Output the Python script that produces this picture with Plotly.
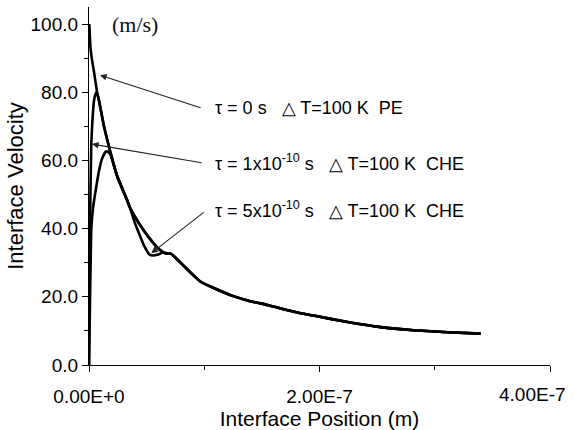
import plotly.graph_objects as go

NM = 1e-9

# tau = 0 s (PE)
pe_x_nm = [0.26, 1.3, 2.6, 4.35, 7.0, 8.7, 13.0, 18.9, 24.3, 33.0, 35.7, 43.5, 52.2, 61.7,
           66.1, 71.3, 76.5, 87.0, 96.5, 108.7, 125.2, 139.1, 154.8, 183.5, 194.8, 224.3,
           253.0, 281.7, 311.3, 340.0]
pe_v = [100.0, 93.0, 89.5, 86.0, 80.1, 77.5, 70.0, 62.0, 55.5, 48.4, 46.0, 41.5, 37.3, 33.7,
        32.8, 32.6, 31.0, 27.5, 24.5, 22.5, 20.2, 18.8, 17.6, 15.2, 14.5, 12.6,
        11.1, 10.2, 9.6, 9.2]

# tau = 1e-10 s (CHE)
c1_x_nm = [0.0, 0.43, 1.04, 2.0, 3.04, 4.35, 5.65, 6.7, 7.83, 8.7, 13.0, 18.9, 24.3, 33.0,
           35.7, 43.5, 52.2, 61.7, 66.1, 71.3, 76.5, 87.0, 96.5, 108.7, 125.2, 139.1, 154.8,
           183.5, 194.8, 224.3, 253.0, 281.7, 311.3, 340.0]
c1_v = [0.0, 25.0, 45.0, 65.0, 72.0, 77.5, 79.5, 80.0, 78.8, 77.5, 70.0, 62.0, 55.5, 48.4,
        46.0, 41.5, 37.3, 33.7, 32.8, 32.6, 31.0, 27.5, 24.5, 22.5, 20.2, 18.8, 17.6,
        15.2, 14.5, 12.6, 11.1, 10.2, 9.6, 9.2]

# tau = 5e-10 s (CHE)
c5_x_nm = [0.0, 0.7, 1.3, 2.0, 3.48, 5.22, 8.7, 11.3, 14.5, 16.5, 18.9, 24.3, 33.0, 35.7,
           40.0, 43.5, 47.8, 52.2, 55.7, 59.1, 64.3, 67.8, 71.3, 76.5, 87.0, 96.5, 108.7,
           125.2, 139.1, 154.8, 183.5, 194.8, 224.3, 253.0, 281.7, 311.3, 340.0]
c5_v = [0.0, 15.0, 28.0, 40.0, 46.0, 50.0, 57.0, 60.5, 62.6, 62.5, 61.5, 55.5, 48.4, 46.0,
        41.5, 38.5, 35.0, 32.5, 32.1, 32.3, 33.0, 32.8, 32.6, 31.0, 27.5, 24.5, 22.5,
        20.2, 18.8, 17.6, 15.2, 14.5, 12.6, 11.1, 10.2, 9.6, 9.2]

x_tick_vals = [0, 2e-7, 4e-7]
x_tick_text = ["0.00E+0", "2.00E-7", "4.00E-7"]
y_tick_vals = [0, 20, 40, 60, 80, 100]
y_tick_text = ["0.0", "20.0", "40.0", "60.0", "80.0", "100.0"]

labels = [
    "τ = 0 s   △ T=100 K  PE",
    "τ = 1x10<sup>-10</sup> s   △ T=100 K  CHE",
    "τ = 5x10<sup>-10</sup> s   △ T=100 K  CHE",
]
label_pos = [(1.08e-7, 75.4), (1.08e-7, 59.5), (1.08e-7, 45.5)]
arrow_tips = [(9.6e-9, 85.0), (2.6e-9, 64.8), (5.4e-8, 32.8)]
arrow_offsets = [(102, 33), (111, 19), (54, -42)]
unit_label = "(m/s)"
unit_pos = (1.8e-8, 100)

FONT = "Liberation Sans, Arial, sans-serif"

fig = go.Figure()
for xs, vs in [(pe_x_nm, pe_v), (c1_x_nm, c1_v), (c5_x_nm, c5_v)]:
    fig.add_trace(go.Scatter(
        x=[v * NM for v in xs], y=vs, mode="lines",
        line=dict(color="black", width=2.6, shape="spline", smoothing=0.4), showlegend=False,
    ))

for (tx, ty), (ax, ay) in zip(arrow_tips, arrow_offsets):
    fig.add_annotation(x=tx, y=ty, xref="x", yref="y", ax=ax, ay=ay,
                       showarrow=True, arrowhead=2, arrowsize=1.2, arrowwidth=1.1,
                       arrowcolor="#222", text="")

for txt, (lx, ly) in zip(labels, label_pos):
    fig.add_annotation(x=lx, y=ly, xref="x", yref="y", text=txt, showarrow=False,
                       xanchor="left", yanchor="middle",
                       font=dict(family=FONT, size=18, color="black"))

fig.add_annotation(x=unit_pos[0], y=unit_pos[1], xref="x", yref="y", text=unit_label,
                   showarrow=False, xanchor="left", yanchor="middle",
                   font=dict(family="Liberation Serif, serif", size=22, color="#111"))

# last x tick label drawn as annotation so it is not clipped at the right edge
fig.add_annotation(x=x_tick_vals[-1], y=0, xref="x", yref="paper", text=x_tick_text[-1],
                   showarrow=False, xanchor="right", yanchor="top", xshift=18, yshift=-17,
                   font=dict(family=FONT, size=19, color="black"))

fig.update_layout(
    width=574, height=430,
    margin=dict(l=89, r=24, t=7, b=65),
    paper_bgcolor="white", plot_bgcolor="white",
    font=dict(family=FONT, color="black"),
)
fig.update_xaxes(
    range=[0, 4e-7], tickvals=x_tick_vals, ticktext=x_tick_text[:-1] + [""],
    showgrid=False, zeroline=False, showline=True, linecolor="black", linewidth=1.3,
    ticks="outside", ticklen=6, tickwidth=1.3, tickcolor="black", ticklabelstandoff=8,
    minor=dict(ticks="outside", dtick=1e-7, ticklen=4, tickwidth=1.1, tickcolor="black"),
    tickfont=dict(size=19), title=dict(text="Interface Position (m)", font=dict(size=21), standoff=0),
)
fig.update_yaxes(
    range=[0, 105], tickvals=y_tick_vals, ticktext=y_tick_text,
    showgrid=False, zeroline=False, showline=True, linecolor="black", linewidth=1.3,
    ticks="outside", ticklen=6, tickwidth=1.3, tickcolor="black",
    minor=dict(ticks="outside", tickvals=[10, 30, 50, 70, 90], ticklen=4, tickwidth=1.1, tickcolor="black"),
    tickfont=dict(size=19), title=dict(text="Interface Velocity", font=dict(size=22), standoff=0),
)

fig.write_html("out.html")
